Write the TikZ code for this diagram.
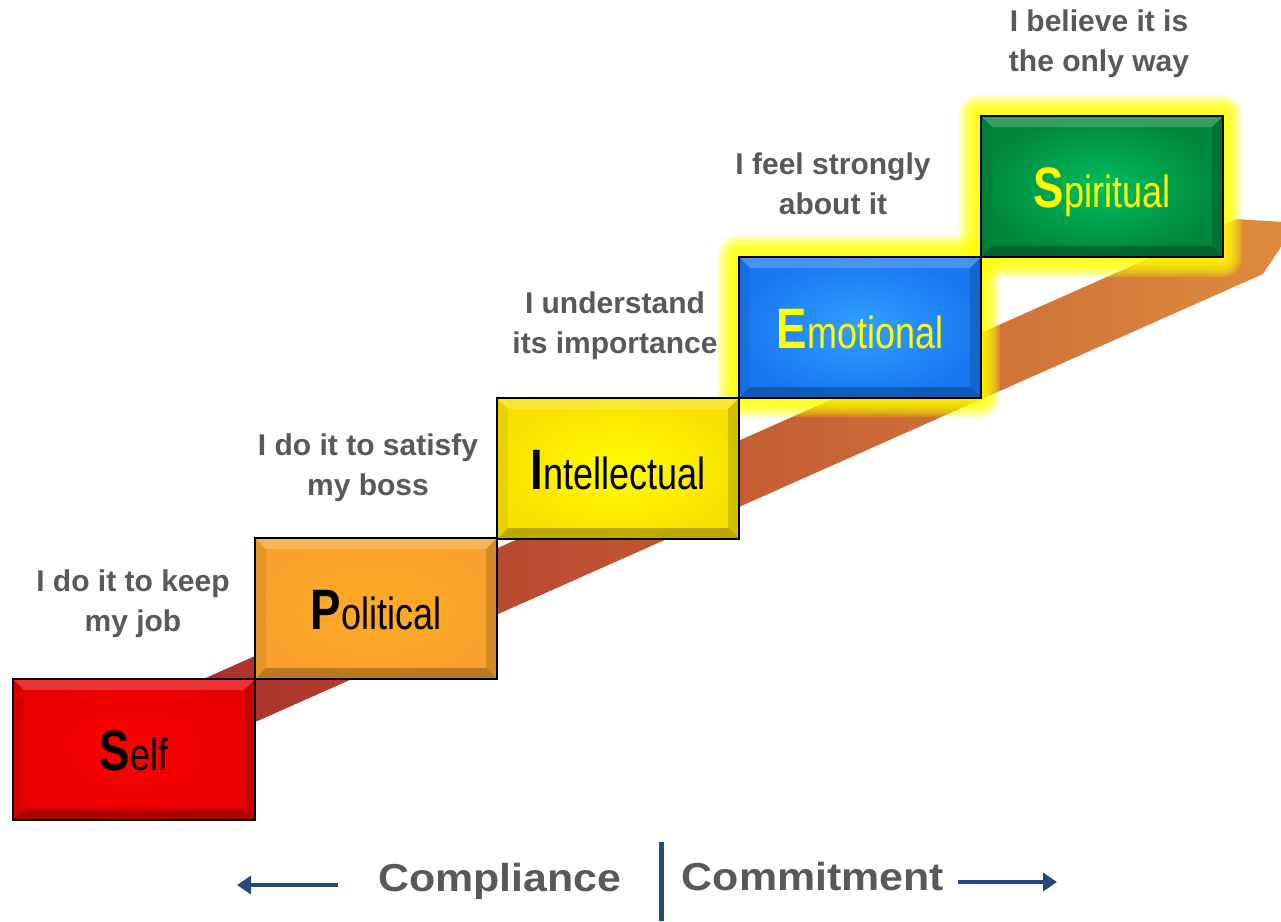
\documentclass[tikz,border=0pt]{standalone}
\usepackage{fontspec}
\setmainfont{Liberation Sans}
\usetikzlibrary{arrows.meta,calc,shadings}
\definecolor{txtgray}{RGB}{89,89,89}
\definecolor{navy}{RGB}{36,73,125}
\definecolor{bandL}{RGB}{165,40,40}
\definecolor{bandR}{RGB}{222,140,62}
\definecolor{redC}{RGB}{255,0,0}
\definecolor{redO}{RGB}{232,0,0}
\definecolor{orC}{RGB}{255,170,35}
\definecolor{orO}{RGB}{248,162,45}
\definecolor{yeC}{RGB}{255,255,0}
\definecolor{yeO}{RGB}{250,225,0}
\definecolor{blC}{RGB}{50,160,255}
\definecolor{blO}{RGB}{25,120,240}
\definecolor{grC}{RGB}{0,190,95}
\definecolor{grO}{RGB}{0,135,62}
\definecolor{glow}{RGB}{255,255,0}
\newcommand\lvlabel[2]{\scalebox{0.8}[1]{\fontsize{57}{57}\selectfont\bfseries #1\fontsize{45}{45}\selectfont\mdseries #2}}
\tikzset{
  stepbox/.style={draw=black, line width=2.2pt, minimum width=242pt, minimum height=141pt,
    inner sep=0pt, anchor=north west,
    path picture={
      \coordinate (nw) at (path picture bounding box.north west);
      \coordinate (se) at (path picture bounding box.south east);
      \coordinate (ne) at (nw -| se);
      \coordinate (sw) at (nw |- se);
      \fill[white,opacity=.2] (nw) -- (ne) -- ($(ne)+(-11,11)$) -- ($(nw)+(11,11)$) -- cycle;
      \fill[black,opacity=.25] (sw) -- (se) -- ($(se)+(-11,-11)$) -- ($(sw)+(11,-11)$) -- cycle;
      \fill[black,opacity=.07] (nw) -- ($(nw)+(11,11)$) -- ($(sw)+(11,-11)$) -- (sw) -- cycle;
      \fill[black,opacity=.15] (ne) -- ($(ne)+(-11,11)$) -- ($(se)+(-11,-11)$) -- (se) -- cycle;
    }},
  steptext/.style={text=txtgray, font=\fontsize{30}{40}\selectfont\bfseries, align=center},
  boxtext/.style={anchor=base, inner sep=0pt},
  bottomtext/.style={text=txtgray, font=\fontsize{39}{39}\selectfont\bfseries, anchor=base, inner sep=0pt, xscale=1.1},
  navyarrow/.style={navy, line width=4pt, -{Triangle[length=14pt,width=18pt]}}
}
\begin{document}
\begin{tikzpicture}[x=1pt,y=-1pt]
\useasboundingbox[fill=white] (0,0) rectangle (1281,921);
% band arrow
\shade[left color=bandL, right color=bandR] (100,725) -- (1237,219) -- (1297,223) -- (1263,274) -- (100,791) -- cycle;
% glows
\foreach \r in {20,18,...,2}{
  \fill[glow,opacity=0.2,rounded corners=\r pt] (738-\r,256-\r) rectangle (980+\r,397+\r);
  \fill[glow,opacity=0.2,rounded corners=\r pt] (979-\r,115-\r) rectangle (1222+\r,257+\r);
}
% boxes
\node[stepbox, inner color=redC, outer color=redO] (self) at (12,678) {};
\node[stepbox, inner color=orC, outer color=orO] (pol) at (254,537) {};
\node[stepbox, inner color=yeC, outer color=yeO] (int) at (496,397) {};
\node[stepbox, inner color=blC, outer color=blO] (emo) at (738,256) {};
\node[stepbox, inner color=grC, outer color=grO] (spi) at (980,115) {};
% box labels
\node[boxtext, text=black] (selft) at ($(self.center)+(0,21)$) {\lvlabel{S}{elf}};
\node[boxtext, text=black] (polt) at ($(pol.center)+(0,21)$) {\lvlabel{P}{olitical}};
\node[boxtext, text=black] (intt) at ($(int.center)+(0,21)$) {\lvlabel{I}{ntellectual}};
\node[boxtext, text=glow] (emot) at ($(emo.center)+(0,21)$) {\lvlabel{E}{motional}};
\node[boxtext, text=glow] (spit) at ($(spi.center)+(0,21)$) {\lvlabel{S}{piritual}};
% step captions
\node[steptext] (c1) at (133,604) {I do it to keep\\my job};
\node[steptext] (c2) at (368,468) {I do it to satisfy\\my boss};
\node[steptext] (c3) at (615,326) {I understand\\its importance};
\node[steptext] (c4) at (833,184) {I feel strongly\\about it};
\node[steptext] (c5) at (1099,44) {I believe it is\\the only way};
% bottom
\coordinate (vtop) at (661,842);
\coordinate (vbot) at (661,921);
\draw[navy, line width=5pt] (vtop) -- (vbot);
\node[bottomtext] (comp) at (500,891) {Compliance};
\node[bottomtext] (comm) at (813,890) {Commitment};
\coordinate (la) at (338,885);
\coordinate (lb) at (237,885);
\coordinate (ra) at (958,882);
\coordinate (rb) at (1057,882);
\draw[navyarrow] (la) -- (lb);
\draw[navyarrow] (ra) -- (rb);
\end{tikzpicture}
\end{document}
